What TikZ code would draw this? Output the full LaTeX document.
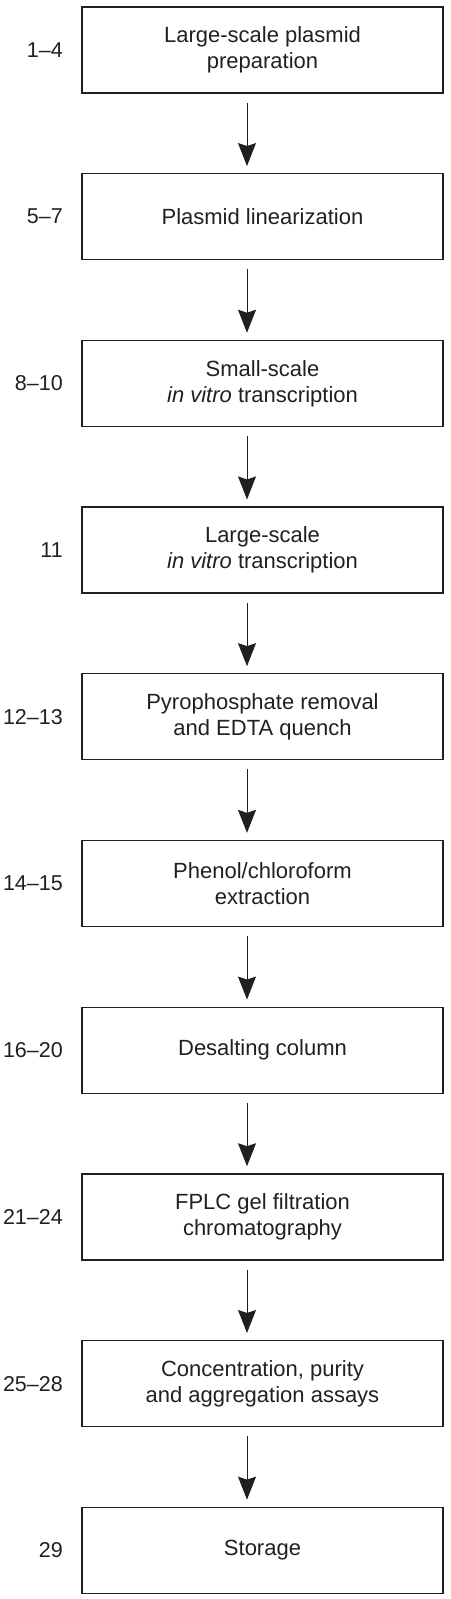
\documentclass[tikz,border=0pt]{standalone}
\usepackage{fontspec}
\setmainfont{Liberation Sans}
\usetikzlibrary{arrows.meta}
\definecolor{ink}{HTML}{231F20}
\begin{document}
\begin{tikzpicture}[x=1pt,y=-1pt,
  stepbox/.style={draw=ink, line width=1.3pt, rectangle, minimum width=361pt, minimum height=86pt,
    align=center, text=ink, font=\fontsize{22pt}{26pt}\selectfont, inner sep=0pt},
  steplabel/.style={anchor=east, text=ink, font=\fontsize{21.5pt}{26pt}\selectfont, inner sep=0pt},
  arr/.style={draw=ink, line width=1pt, -{Stealth[length=23pt, width=18pt, inset=3pt]}}]
\useasboundingbox (0,0) rectangle (450,1599);
\foreach \i/\txt/\lab in {
  0/{Large-scale plasmid\\preparation}/1--4,
  1/{Plasmid linearization}/5--7,
  2/{Small-scale\\\textit{in vitro} transcription}/8--10,
  3/{Large-scale\\\textit{in vitro} transcription}/11,
  4/{Pyrophosphate removal\\and EDTA quench}/12--13,
  5/{Phenol/chloroform\\extraction}/14--15,
  6/{Desalting column}/16--20,
  7/{FPLC gel filtration\\chromatography}/21--24,
  8/{Concentration, purity\\and aggregation assays}/25--28,
  9/{Storage}/29}{
  \node[stepbox] (b\i) at (262.5, {50+166.7*\i}) {\txt};
  \node[steplabel] (l\i) at (63, {50+166.7*\i}) {\lab};
}
\foreach \i [evaluate=\i as \j using int(\i+1)] in {0,...,8}{
  \draw[arr] ([xshift=-15.5pt, yshift=-9pt]b\i.south) -- ([xshift=-15.5pt, yshift=7pt]b\j.north);
}
\end{tikzpicture}
\end{document}
